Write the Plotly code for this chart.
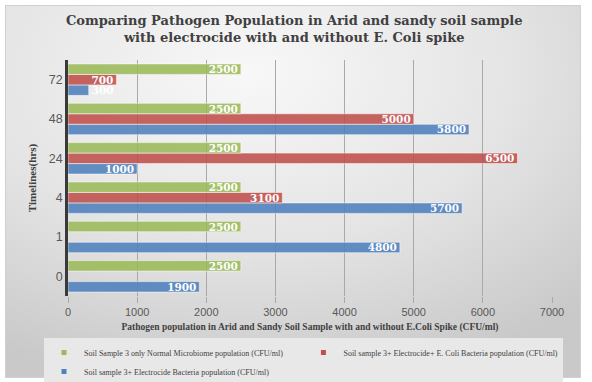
import base64
import plotly.graph_objects as go

# ---- data ----
timelines = ["0", "1", "4", "24", "48", "72"]
normal_microbiome = [2500, 2500, 2500, 2500, 2500, 2500]
electrocide_ecoli = [None, None, 3100, 6500, 5000, 700]
electrocide_only = [1900, 4800, 5700, 1000, 5800, 300]

name_green = "Soil Sample 3 only Normal Microbiome population (CFU/ml)"
name_red = "Soil sample 3+ Electrocide+ E. Coli Bacteria population (CFU/ml)"
name_blue = "Soil sample 3+ Electrocide Bacteria population (CFU/ml)"

x_ticks = [0, 1000, 2000, 3000, 4000, 5000, 6000, 7000]

title_text = ("Comparing Pathogen Population in Arid and sandy soil sample<br>"
              "with electrocide with and without E. Coli spike")
x_title = "Pathogen population in Arid and Sandy Soil Sample with and without E.Coli Spike (CFU/ml)"
y_title = "Timelines(hrs)"

GREEN = "#9bbb59"
RED = "#c0504d"
BLUE = "#4f81bd"

W, H = 592, 382
L, R, T, B = 68, 40, 60, 86
pw, ph = W - L - R, H - T - B

svg = f'''<svg xmlns="http://www.w3.org/2000/svg" width="{W}" height="{H}" viewBox="0 0 {W} {H}" preserveAspectRatio="none">
<defs><radialGradient id="g" cx="0.42" cy="0.18" r="0.85" gradientUnits="objectBoundingBox">
<stop offset="0" stop-color="#f8f8f8"/><stop offset="0.55" stop-color="#e4e4e4"/><stop offset="1" stop-color="#c9c9c9"/></radialGradient></defs>
<rect x="0" y="0" width="{W}" height="{H}" fill="#ffffff"/>
<rect x="5.5" y="5.5" width="575" height="372" fill="url(#g)" stroke="#d0d0d0" stroke-width="1"/>
</svg>'''
src = "data:image/svg+xml;base64," + base64.b64encode(svg.encode()).decode()

fig = go.Figure()

label_font = dict(family="DejaVu Serif", size=10.5, color="white", weight="bold")

for vals, color, name in [(electrocide_only, BLUE, name_blue),
                          (electrocide_ecoli, RED, name_red),
                          (normal_microbiome, GREEN, name_green)]:
    fig.add_trace(go.Bar(
        y=timelines, x=vals, orientation="h", name=name,
        marker=dict(color=color, opacity=0.88, line=dict(color="rgba(255,255,255,0.55)", width=1)),
        text=[("" if v is None else str(v)) for v in vals],
        textposition=[("outside" if (v is not None and v < 600) else "inside") for v in vals],
        insidetextanchor="end", constraintext="none", cliponaxis=False,
        textfont=label_font, showlegend=False, hoverinfo="x+y",
    ))

# legend entries (small square symbols like the original)
for color, name, rank in [(GREEN, name_green, 1), (RED, name_red, 2), (BLUE, name_blue, 3)]:
    fig.add_trace(go.Scatter(
        x=[None], y=[None], mode="markers", name=name, legendrank=rank,
        marker=dict(symbol="square", size=5, color=color),
    ))

fig.update_layout(
    width=W, height=H,
    margin=dict(l=L, r=R, t=T, b=B, autoexpand=False),
    paper_bgcolor="white",
    plot_bgcolor="rgba(0,0,0,0)",
    barmode="group", bargap=0.2, bargroupgap=0.0,
    title=dict(text=title_text, x=0.497, xanchor="center", xref="container",
               y=1 - 25 / H, yanchor="top", yref="container",
               font=dict(family="DejaVu Serif", size=13, color="#404040", weight="bold")),
    images=[dict(source=src, xref="paper", yref="paper", x=-L / pw, y=(ph + T) / ph,
                 sizex=W / pw, sizey=H / ph, xanchor="left", yanchor="top",
                 sizing="stretch", layer="below")],
    legend=dict(orientation="h", x=-24 / pw, xanchor="left", y=-42 / ph, yanchor="top",
                bgcolor="#e8e8e8", font=dict(family="Liberation Serif", size=8, color="#404040"),
                itemwidth=30, tracegroupgap=0, traceorder="normal"),
    xaxis=dict(range=[0, 7000], tickvals=x_ticks, ticktext=[str(v) for v in x_ticks],
               showgrid=True, gridcolor="#a9a9a9", gridwidth=1, zeroline=False, showline=False,
               ticks="outside", ticklen=6, tickcolor="#a9a9a9",
               tickfont=dict(family="Liberation Sans", size=11, color="#595959"),
               title=dict(text=x_title, standoff=6,
                          font=dict(family="Liberation Serif", size=9.5, color="#404040", weight="bold"))),
    yaxis=dict(type="category", categoryorder="array", categoryarray=timelines,
               showgrid=False, showline=True, linecolor="#3a3a3a", linewidth=2.5,
               ticks="", tickfont=dict(family="Liberation Sans", size=12.5, color="#595959"),
               title=dict(text=y_title, standoff=10,
                          font=dict(family="Liberation Serif", size=11, color="#404040", weight="bold"))),
)

fig.write_html("out.html", config={"displayModeBar": False},
               post_script="document.body.style.margin='0px';")
